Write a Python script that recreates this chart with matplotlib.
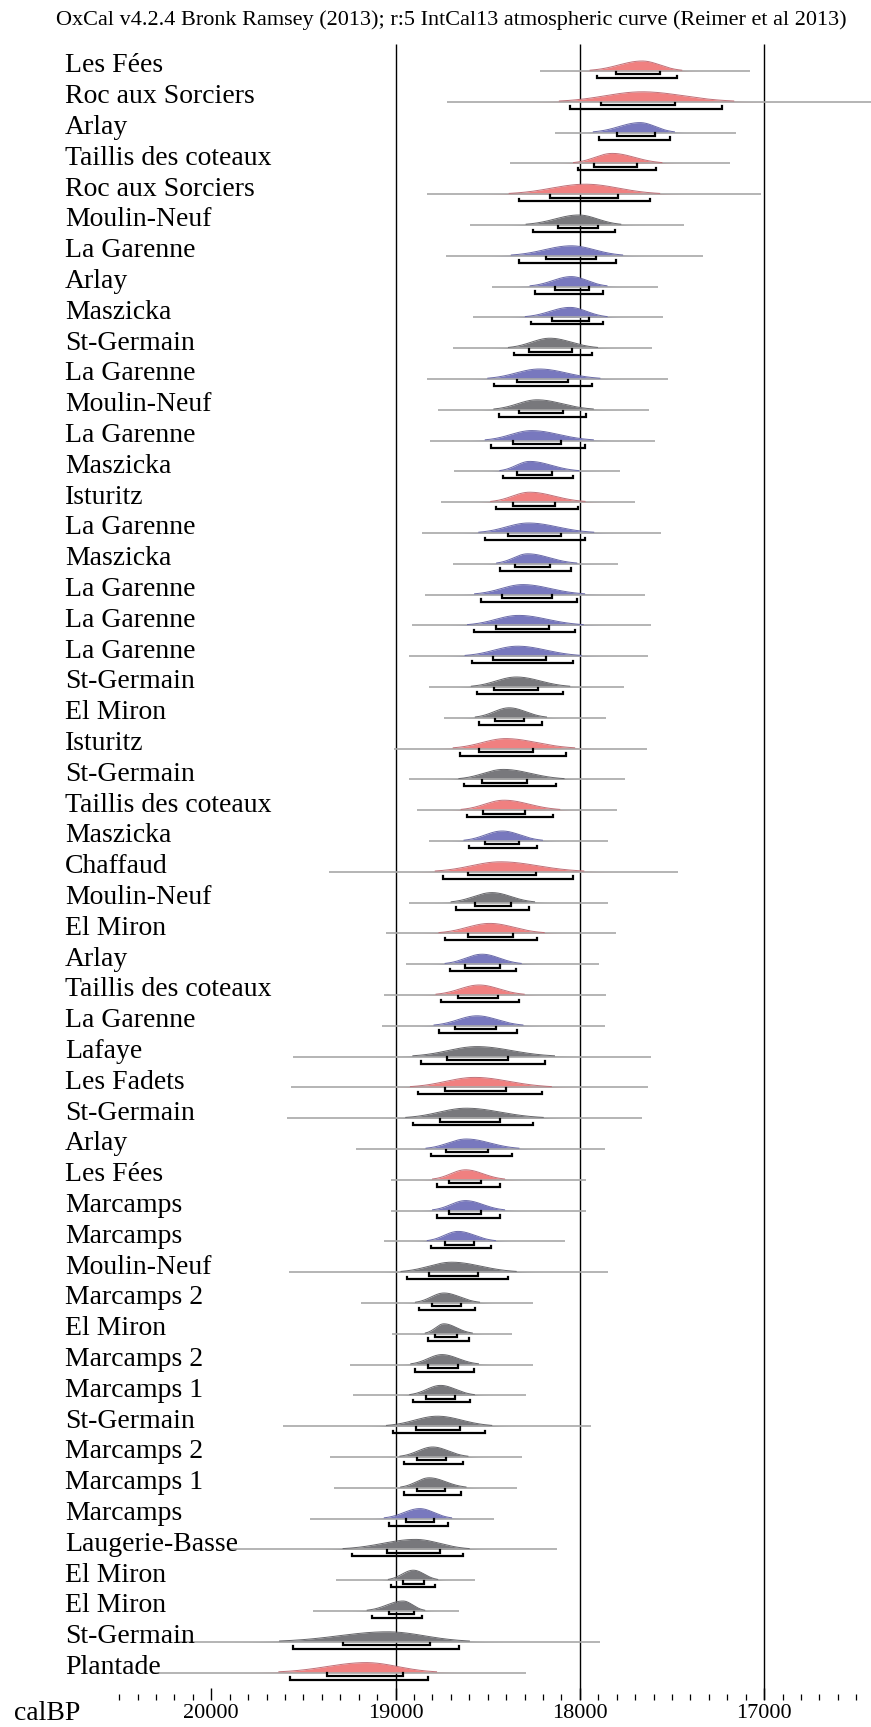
import numpy as np
import matplotlib
matplotlib.use("Agg")
import matplotlib.pyplot as plt
from matplotlib.ticker import FixedLocator, NullFormatter

plt.rcParams["font.family"] = ["Liberation Serif", "DejaVu Serif"]

TITLE = "OxCal v4.2.4 Bronk Ramsey (2013); r:5 IntCal13 atmospheric curve (Reimer et al 2013)"

labels = [
    "Les Fées", "Roc aux Sorciers", "Arlay", "Taillis des coteaux", "Roc aux Sorciers",
    "Moulin-Neuf", "La Garenne", "Arlay", "Maszicka", "St-Germain",
    "La Garenne", "Moulin-Neuf", "La Garenne", "Maszicka", "Isturitz",
    "La Garenne", "Maszicka", "La Garenne", "La Garenne", "La Garenne",
    "St-Germain", "El Miron", "Isturitz", "St-Germain", "Taillis des coteaux",
    "Maszicka", "Chaffaud", "Moulin-Neuf", "El Miron", "Arlay",
    "Taillis des coteaux", "La Garenne", "Lafaye", "Les Fadets", "St-Germain",
    "Arlay", "Les Fées", "Marcamps", "Marcamps", "Moulin-Neuf",
    "Marcamps 2", "El Miron", "Marcamps 2", "Marcamps 1", "St-Germain",
    "Marcamps 2", "Marcamps 1", "Marcamps", "Laugerie-Basse", "El Miron",
    "El Miron", "St-Germain", "Plantade",
]

# r = red, b = blue, g = grey
groups = list("rrbrrgbbbg" "bgbbrbbbbb" "ggrgrbrgrb" "rbgrgbrbbg" "gggggggbgg" "ggr")

peak = [17662, 17662, 17674, 17825, 17970, 18007, 18047, 18047, 18054, 18163,
        18221, 18233, 18263, 18273, 18273, 18280, 18284, 18310, 18333, 18338,
        18345, 18384, 18403, 18415, 18412, 18422, 18431, 18477, 18489, 18531,
        18547, 18559, 18559, 18571, 18617, 18617, 18621, 18621, 18661, 18696,
        18738, 18738, 18749, 18756, 18773, 18799, 18818, 18869, 18892, 18904,
        18960, 19044, 19160]

line_old = [18217, 18722, 18135, 18377, 18831, 18599, 18729, 18477, 18578, 18687,
            18829, 18769, 18813, 18682, 18752, 18859, 18687, 18838, 18913, 18925,
            18818, 18738, 19008, 18927, 18883, 18818, 19360, 18925, 19050, 18943,
            19062, 19074, 19558, 19565, 19588, 19213, 19024, 19024, 19064, 19581,
            19187, 19017, 19248, 19229, 19609, 19358, 19335, 19465, 19898, 19323,
            19449, 20185, 20320]

line_young = [17076, 16300, 17155, 17185, 17020, 17434, 17332, 17574, 17548, 17607,
              17523, 17623, 17593, 17784, 17702, 17558, 17795, 17646, 17616, 17632,
              17763, 17858, 17637, 17753, 17800, 17849, 17467, 17849, 17802, 17895,
              17858, 17865, 17616, 17632, 17662, 17865, 17965, 17965, 18083, 17848,
              18253, 18370, 18253, 18295, 17941, 18315, 18343, 18466, 18124, 18571,
              18657, 17891, 18294]

r68_old = [17802, 17884, 17798, 17921, 18161, 18119, 18186, 18137, 18154, 18275,
           18340, 18333, 18363, 18342, 18361, 18389, 18354, 18422, 18457, 18471,
           18464, 18459, 18545, 18533, 18524, 18515, 18606, 18571, 18606, 18624,
           18664, 18675, 18720, 18731, 18759, 18724, 18708, 18708, 18733, 18817,
           18801, 18787, 18824, 18836, 18887, 18885, 18883, 18941, 19048, 18960,
           19034, 19284, 19374]

r68_young = [17567, 17483, 17593, 17690, 17791, 17900, 17914, 17951, 17951, 18044,
             18063, 18093, 18100, 18151, 18135, 18100, 18163, 18149, 18168, 18182,
             18228, 18305, 18252, 18287, 18298, 18331, 18240, 18373, 18363, 18436,
             18443, 18454, 18391, 18401, 18436, 18496, 18535, 18535, 18575, 18554,
             18645, 18668, 18659, 18677, 18652, 18727, 18734, 18790, 18760, 18844,
             18902, 18813, 18960]

r95_old = [17909, 18054, 17895, 18009, 18331, 18256, 18331, 18242, 18266, 18359,
           18466, 18438, 18482, 18415, 18457, 18515, 18431, 18538, 18575, 18587,
           18559, 18545, 18652, 18627, 18615, 18603, 18741, 18671, 18731, 18706,
           18752, 18762, 18864, 18876, 18904, 18808, 18777, 18777, 18808, 18936,
           18873, 18826, 18896, 18903, 19015, 18955, 18953, 19037, 19237, 19023,
           19130, 19558, 19575]

r95_young = [17474, 17227, 17511, 17588, 17618, 17807, 17802, 17877, 17877, 17937,
             17933, 17965, 17970, 18040, 18009, 17970, 18051, 18016, 18026, 18035,
             18091, 18207, 18075, 18128, 18147, 18231, 18035, 18275, 18231, 18345,
             18333, 18340, 18191, 18207, 18252, 18366, 18435, 18435, 18484, 18389,
             18568, 18603, 18575, 18596, 18514, 18632, 18643, 18718, 18636, 18788,
             18857, 18655, 18825]

major_ticks = [20000, 19000, 18000, 17000]
grid_years = [19000, 18000, 17000]

FILL = {"r": "#f08080", "b": "#7878be", "g": "#78787c"}
EDGE = {"r": "#c07078", "b": "#6a6aa8", "g": "#66666a"}

W, H = 871, 1727
ROW0, ROW_STEP = 71, 30.8      # pixel position of first baseline, row spacing
AX_BOTTOM = 1700               # pixel y of the time axis

fig = plt.figure(figsize=(W / 100, H / 100), dpi=100)
ax = fig.add_axes([0, (H - AX_BOTTOM) / H, 1, AX_BOTTOM / H])

# pixel -> data limits
ax.set_xlim(20000 + 211.3 / 0.1843, 20000 - (W - 211.3) / 0.1843)
ax.set_ylim((AX_BOTTOM - ROW0) / ROW_STEP, -ROW0 / ROW_STEP)

px = 1 / ROW_STEP   # one pixel in row units
peak_h = 10 * px

ax.vlines(grid_years, (44 - ROW0) / ROW_STEP, (AX_BOTTOM - ROW0) / ROW_STEP,
          color="black", lw=1.0, zorder=1)

for i, name in enumerate(labels):
    y = i
    c = groups[i]
    ax.plot([line_old[i], line_young[i]], [y, y], color="#a8a8a8", lw=1.2,
            zorder=3.5, solid_capstyle="butt")

    t = np.linspace(line_old[i], line_young[i], 600)
    s_old = (r95_old[i] - peak[i]) / 1.96
    s_young = (peak[i] - r95_young[i]) / 1.96
    s = np.where(t > peak[i], s_old, s_young)
    d = np.exp(-0.5 * ((t - peak[i]) / s) ** 2)
    ax.fill_between(t, y, y - peak_h * d, color=FILL[c], lw=0, zorder=3)
    edge = np.where(d > 0.08, y - peak_h * d, np.nan)
    ax.plot(t, edge, color=EDGE[c], lw=0.7, zorder=4)

    for lo, hi, off in [(r68_old[i], r68_young[i], 3.3 * px),
                        (r95_old[i], r95_young[i], 7.0 * px)]:
        yy = y + off
        ax.plot([lo, lo, hi, hi], [yy - 2.5 * px, yy, yy, yy - 2.5 * px],
                color="black", lw=1.6, zorder=5, solid_joinstyle="miter")

    ax.text(65 / W, y + 1.5 * px, name, transform=ax.get_yaxis_transform(),
            ha="left", va="baseline", fontsize=20, zorder=6)

for sp in ax.spines.values():
    sp.set_visible(False)
ax.yaxis.set_visible(False)
ax.xaxis.set_major_locator(FixedLocator(major_ticks))
ax.xaxis.set_minor_locator(FixedLocator(np.arange(16500, 20501, 100)))
ax.xaxis.set_minor_formatter(NullFormatter())
ax.tick_params(axis="x", which="major", direction="in", length=8.6, width=1.0,
               labelsize=16, pad=3)
ax.tick_params(axis="x", which="minor", direction="in", length=4.0, width=0.9)

fig.text(14 / W, 1 - 1714 / H, "calBP", ha="left", va="center", fontsize=20)
fig.text(451 / W, 1 - 20 / H, TITLE, ha="center", va="center", fontsize=16)

fig.savefig("out.png", dpi=100)
